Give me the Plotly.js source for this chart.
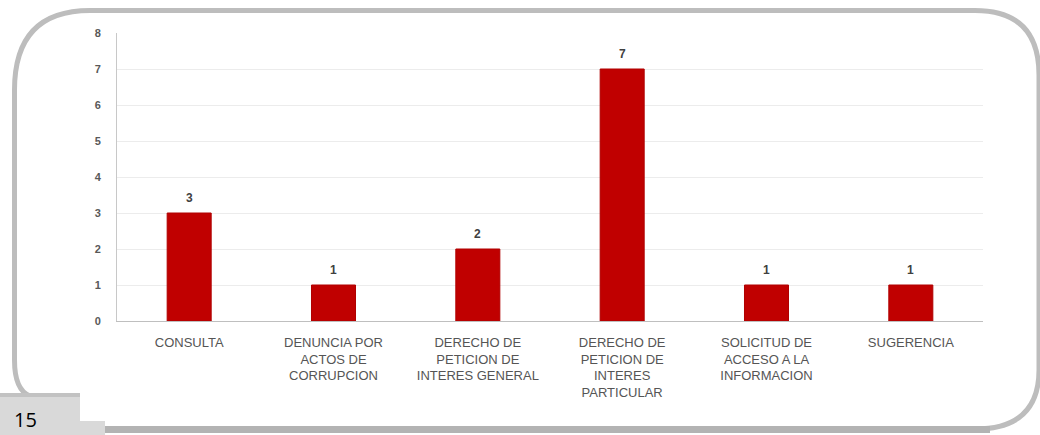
<!DOCTYPE html>
<html>
<head>
<meta charset="utf-8">
<script src="https://cdn.plot.ly/plotly-3.0.1.min.js"></script>
<style>
  html, body { margin: 0; padding: 0; background: #ffffff; }
  #chart { width: 1040px; height: 435px; }
</style>
</head>
<body>
<div id="chart"></div>
<script>
// ---- data ----
const categories = [
  "CONSULTA",
  "DENUNCIA POR<br>ACTOS DE<br>CORRUPCION",
  "DERECHO DE<br>PETICION DE<br>INTERES GENERAL",
  "DERECHO DE<br>PETICION DE<br>INTERES<br>PARTICULAR",
  "SOLICITUD DE<br>ACCESO A LA<br>INFORMACION",
  "SUGERENCIA"
];
const values = [3, 1, 2, 7, 1, 1];
const yTicks = [0, 1, 2, 3, 4, 5, 6, 7, 8];
const pageNumber = "15";

// ---- layout geometry (pixels of the 1040x435 page) ----
const W = 1040, H = 435;
const M = { l: 117, r: 57, t: 33, b: 114 };
const PW = W - M.l - M.r, PH = H - M.t - M.b;
const px = x => (x - M.l) / PW;          // pixel -> paper x
const py = y => (H - M.b - y) / PH;      // pixel -> paper y
function path(cmds) {
  return cmds.map(c => c[0] + ' ' + c.slice(1).map((v, i) => (i % 2 === 0 ? px(v) : py(v)).toFixed(5)).join(',')).join(' ');
}

const frame = path([
  ['M', 30, 396], ['Q', 14.5, 390, 14.5, 360], ['L', 14.5, 90],
  ['Q', 14.5, 10.5, 90, 10.5], ['L', 975, 10.5],
  ['Q', 1039, 10.5, 1039, 75], ['L', 1039, 370],
  ['Q', 1039, 429, 975, 429]
]);
const bottomEdge = path([['M', 990, 429.5], ['L', 100, 429.5]]);

const shapes = [
  { type: 'path', xref: 'paper', yref: 'paper', path: frame, line: { color: '#bdbdbd', width: 5 }, layer: 'below' },
  { type: 'path', xref: 'paper', yref: 'paper', path: bottomEdge, line: { color: '#b3b3b3', width: 7 }, layer: 'below' },
  { type: 'rect', xref: 'paper', yref: 'paper', x0: px(0), x1: px(80), y0: py(435), y1: py(393),
    fillcolor: '#d9d9d9', line: { width: 0 }, layer: 'below' },
  { type: 'rect', xref: 'paper', yref: 'paper', x0: px(0), x1: px(80), y0: py(397), y1: py(393),
    fillcolor: '#c2c2c2', line: { width: 0 }, layer: 'below' },
  { type: 'rect', xref: 'paper', yref: 'paper', x0: px(80), x1: px(105), y0: py(435), y1: py(421),
    fillcolor: '#d9d9d9', line: { width: 0 }, layer: 'below' }
];

const annotations = values.map((v, i) => ({
  x: categories[i], y: v, xref: 'x', yref: 'y', text: String(v),
  showarrow: false, yanchor: 'middle', yshift: 15,
  font: { family: 'Liberation Sans, Arial, sans-serif', size: 12, color: '#404040', weight: 700 }
}));
annotations.push({
  xref: 'paper', yref: 'paper', x: px(25), y: py(419), text: pageNumber,
  showarrow: false, xanchor: 'center', yanchor: 'middle', borderpad: 0,
  font: { family: 'Open Sans, sans-serif', size: 20, color: '#000000' }
});

const trace = {
  type: 'bar', x: categories, y: values,
  marker: { color: '#c00000', line: { color: '#b00000', width: 1 } },
  hoverinfo: 'none'
};

const layout = {
  width: W, height: H,
  margin: M,
  paper_bgcolor: '#ffffff', plot_bgcolor: '#ffffff',
  showlegend: false,
  bargap: 0.695,
  xaxis: {
    type: 'category',
    showgrid: false, zeroline: false,
    showline: true, linecolor: '#bfbfbf', linewidth: 1,
    ticks: '', ticklabelstandoff: 9,
    tickfont: { family: 'Liberation Sans, Arial, sans-serif', size: 13, color: '#555555' }
  },
  yaxis: {
    range: [0, 8], tickvals: yTicks, ticktext: yTicks.map(String),
    showgrid: true, gridcolor: '#ececec', gridwidth: 1,
    zeroline: false, showline: true, linecolor: '#c8c8c8', linewidth: 1,
    ticks: '', ticklabelstandoff: 13,
    tickfont: { family: 'Liberation Sans, Arial, sans-serif', size: 11, color: '#595959', weight: 700 }
  },
  shapes: shapes,
  annotations: annotations
};

Plotly.newPlot('chart', [trace], layout, { displayModeBar: false, staticPlot: true });
</script>
</body>
</html>
